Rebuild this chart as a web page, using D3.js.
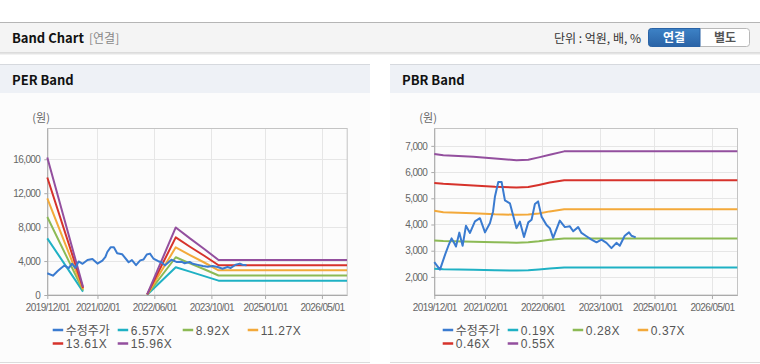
<!DOCTYPE html>
<html><head><meta charset="utf-8">
<script src="https://cdn.jsdelivr.net/npm/d3@7"></script>
<style>
html,body{margin:0;padding:0;background:#fff;}
svg{display:block;}
.kr{font-family:"Noto Sans CJK KR","Noto Sans",sans-serif;}
.tick text{font-family:"Liberation Sans",Arial,sans-serif;font-size:10px;fill:#666;letter-spacing:-0.6px;}
</style>
</head><body>
<svg id="c" width="760" height="364"></svg>
<script>
// ---------------- DATA ----------------
const xTickLabels = ["2019/12/01","2021/02/01","2022/06/01","2023/10/01","2025/01/01","2026/05/01"];
const xDomain = ["2019-12-01","2026-12-01"];

// adjusted share price (수정주가)
const priceDates = ["2019-12-01","2020-01-18","2020-03-01","2020-03-29","2020-04-25","2020-05-10","2020-06-01","2020-06-29","2020-07-27","2020-08-24","2020-09-27","2020-11-08","2020-12-20","2021-02-01","2021-03-15","2021-04-10","2021-04-26","2021-05-24","2021-06-21","2021-07-19","2021-08-30","2021-10-25","2021-11-22","2021-12-27","2022-02-01","2022-03-01","2022-03-29","2022-04-25","2022-05-24","2022-07-05","2022-08-02","2022-08-30","2022-10-25","2022-12-07","2023-01-18","2023-02-15","2023-03-29","2023-04-26","2023-06-07","2023-07-20","2023-08-31","2023-10-12","2023-11-23","2024-01-04","2024-02-15","2024-03-14","2024-04-25","2024-05-31","2024-06-21","2024-07-27"];
const priceValues = [2560,2280,2850,3190,3470,3350,3160,3690,3190,3950,3680,4120,4240,3700,4060,4500,5070,5620,5620,4920,4810,3860,4110,3520,4080,4180,4780,4880,4300,3980,3860,3490,4150,3900,3930,3740,3900,3680,3550,3420,3320,3420,3300,3100,3300,3190,3570,3700,3570,3510];

// PER band
const perDates = ["2019-12-01","2020-10-01","2021-06-01","2022-04-01","2022-12-01","2023-04-01","2023-08-01","2023-12-01","2026-12-01"];
const per657  = [6680, 400, null, 35, 3280, 2750, 2230, 1690, 1690];
const per892  = [9200, 540, null, 45, 4450, 3730, 3030, 2300, 2300];
const per1127 = [11400, 680, null, 55, 5620, 4710, 3830, 2910, 2910];
const per1361 = [13850, 820, null, 70, 6790, 5690, 4630, 3510, 3510];
const per1596 = [16200, 950, null, 80, 7960, 6670, 5430, 4120, 4120];
const perLabels = ["수정주가","6.57X","8.92X","11.27X","13.61X","15.96X"];
const perYTicks = [0,4000,8000,12000,16000];

// PBR band
const pbrDates = ["2019-12-01","2020-02-15","2020-10-25","2021-04-26","2021-10-25","2022-02-01","2022-05-01","2022-08-01","2022-12-01","2026-12-01"];
const pbr019 = [2310,2290,2275,2250,2240,2250,2280,2320,2360,2360];
const pbr028 = [3390,3370,3345,3320,3305,3320,3360,3420,3470,3470];
const pbr037 = [4520,4470,4430,4390,4370,4385,4420,4500,4580,4580];
const pbr046 = [5580,5550,5490,5440,5410,5430,5510,5600,5690,5690];
const pbr055 = [6690,6640,6580,6520,6450,6470,6560,6660,6790,6790];
const pbrLabels = ["수정주가","0.19X","0.28X","0.37X","0.46X","0.55X"];
const pbrYTicks = [2000,3000,4000,5000,6000,7000];

const colors = ["#3a7bd0","#1fb1c4","#8cba55","#f3a93a","#d6322b","#934f9e"];

// ---------------- DRAW ----------------
const parse = d3.timeParse("%Y-%m-%d");
const svg = d3.select("#c");

// page header
svg.append("rect").attr("x",0).attr("y",22).attr("width",760).attr("height",31).attr("fill","#f4f4f4");
svg.append("line").attr("x1",0).attr("x2",760).attr("y1",22.5).attr("y2",22.5).attr("stroke","#b5b5b5");
svg.append("line").attr("x1",0).attr("x2",760).attr("y1",53).attr("y2",53).attr("stroke","#c4c4c4");
svg.append("line").attr("x1",0).attr("x2",760).attr("y1",54).attr("y2",54).attr("stroke","#e6e6e6");
svg.append("text").attr("class","kr").attr("x",12).attr("y",43).attr("font-size","13px").attr("font-weight","bold").attr("fill","#111").text("Band Chart");
svg.append("text").attr("class","kr").attr("x",89).attr("y",43).attr("font-size","12px").attr("fill","#888").text("[연결]");
svg.append("text").attr("class","kr").attr("x",641).attr("y",43).attr("text-anchor","end").attr("font-size","12px").attr("fill","#333").text("단위 : 억원, 배, %");
const defs = svg.append("defs");
const g1 = defs.append("linearGradient").attr("id","btn").attr("x1",0).attr("x2",0).attr("y1",0).attr("y2",1);
g1.append("stop").attr("offset","0").attr("stop-color","#3d82c6");
g1.append("stop").attr("offset","1").attr("stop-color","#2a63a6");
svg.append("rect").attr("x",648.5).attr("y",28.5).attr("width",101).attr("height",18).attr("rx",3).attr("fill","#fff").attr("stroke","#b8b8b8");
svg.append("path").attr("d","M700,28.5 H651.5 a3,3 0 0 0 -3,3 V43.5 a3,3 0 0 0 3,3 H700 Z").attr("fill","url(#btn)").attr("stroke","#2a63a6");
svg.append("text").attr("class","kr").attr("x",674).attr("y",42).attr("text-anchor","middle").attr("font-size","12px").attr("font-weight","bold").attr("fill","#fff").text("연결");
svg.append("text").attr("class","kr").attr("x",725).attr("y",42).attr("text-anchor","middle").attr("font-size","12px").attr("font-weight","bold").attr("fill","#555").text("별도");

function panel(o){
  const px = o.px, pw = o.pw;
  svg.append("rect").attr("x",px).attr("y",93).attr("width",pw).attr("height",269).attr("fill","#fcfcfc");
  svg.append("rect").attr("x",px).attr("y",64).attr("width",pw).attr("height",29).attr("fill","#eef1f6");
  svg.append("line").attr("x1",px).attr("x2",px+pw).attr("y1",64.5).attr("y2",64.5).attr("stroke","#d6d9de");
  svg.append("line").attr("x1",px).attr("x2",px+pw).attr("y1",362.5).attr("y2",362.5).attr("stroke","#dcdcdc");
  svg.append("text").attr("class","kr").attr("x",px+12).attr("y",85).attr("font-size","13px").attr("font-weight","bold").attr("fill","#111").text(o.title);

  const x = d3.scaleTime().domain(xDomain.map(parse)).range([o.left, o.right]);
  const y = d3.scaleLinear().domain(o.yDomain).range([295,128.3]);
  const xt = xTickLabels.map(s=>d3.timeParse("%Y/%m/%d")(s));

  const g = svg.append("g");
  // grid
  g.selectAll(".hg").data(o.yTicks).join("line")
    .attr("x1",o.left).attr("x2",o.right).attr("y1",d=>Math.round(y(d))+0.5).attr("y2",d=>Math.round(y(d))+0.5)
    .attr("stroke","#e6e6e6");
  g.selectAll(".vg").data(xt).join("line")
    .attr("y1",128.3).attr("y2",295).attr("x1",d=>Math.round(x(d))+0.5).attr("x2",d=>Math.round(x(d))+0.5)
    .attr("stroke","#e6e6e6");
  // frame
  g.append("rect").attr("x",Math.round(o.left)+0.5).attr("y",128.5).attr("width",o.right-o.left).attr("height",166.5)
    .attr("fill","none").attr("stroke","#c4c4c4");

  // axes
  const ax = g.append("g").attr("transform","translate(0,295)")
    .call(d3.axisBottom(x).tickValues(xt).tickFormat(d3.timeFormat("%Y/%m/%d")).tickSize(4).tickPadding(4.5).tickSizeOuter(0));
  ax.select(".domain").attr("stroke","#aaa");
  ax.selectAll(".tick line").attr("stroke","#aaa");
  const ay = g.append("g").attr("transform",`translate(${o.left},0)`)
    .call(d3.axisLeft(y).tickValues(o.yTicks).tickFormat(d3.format(",")).tickSize(3).tickPadding(4).tickSizeOuter(0));
  ay.select(".domain").attr("stroke","#aaa");
  ay.selectAll(".tick line").attr("stroke","#aaa");
  svg.append("text").attr("class","kr").attr("x",o.left-15).attr("y",122).attr("font-size","11px").attr("fill","#666").text("(원)");

  const line = d3.line().defined(d=>d[1]!=null).x(d=>x(d[0])).y(d=>y(d[1]));
  const bandDates = o.bandDates.map(parse);
  o.bands.forEach((arr,i)=>{
    g.append("path").datum(bandDates.map((d,j)=>[d,arr[j]]))
      .attr("d",line).attr("fill","none").attr("stroke",colors[i+1]).attr("stroke-width",2).attr("stroke-linejoin","round");
  });
  g.append("path").datum(priceDates.map((d,j)=>[parse(d),priceValues[j]]))
    .attr("d",line).attr("fill","none").attr("stroke",colors[0]).attr("stroke-width",2).attr("stroke-linejoin","round");

  // legend
  const lg = svg.append("g");
  o.labels.forEach((lab,i)=>{
    const col = i<4 ? i : i-4, row = i<4 ? 0 : 1;
    const lx = px + 52.7 + col*65, ly = 330 + row*13.5;
    lg.append("line").attr("x1",lx).attr("x2",lx+10.5).attr("y1",ly).attr("y2",ly).attr("stroke",colors[i]).attr("stroke-width",2.5);
    lg.append("text").attr("class","kr").attr("x",lx+13).attr("y",ly+4.5)
      .attr("font-size","12px").attr("fill","#555")
      .style("font-family", i===0 ? '"Noto Sans CJK KR",sans-serif' : '"Liberation Sans",Arial,sans-serif')
      .style("letter-spacing", i===0 ? "0px" : "0.6px")
      .text(lab);
  });
}

panel({px:0,pw:370,title:"PER Band",left:47.3,right:347,yDomain:[0,19650],yTicks:perYTicks,
  bandDates:perDates,bands:[per657,per892,per1127,per1361,per1596],labels:perLabels});
panel({px:390,pw:370,title:"PBR Band",left:434.3,right:737.3,yDomain:[1310,7670],yTicks:pbrYTicks,
  bandDates:pbrDates,bands:[pbr019,pbr028,pbr037,pbr046,pbr055],labels:pbrLabels});
</script>
</body></html>
